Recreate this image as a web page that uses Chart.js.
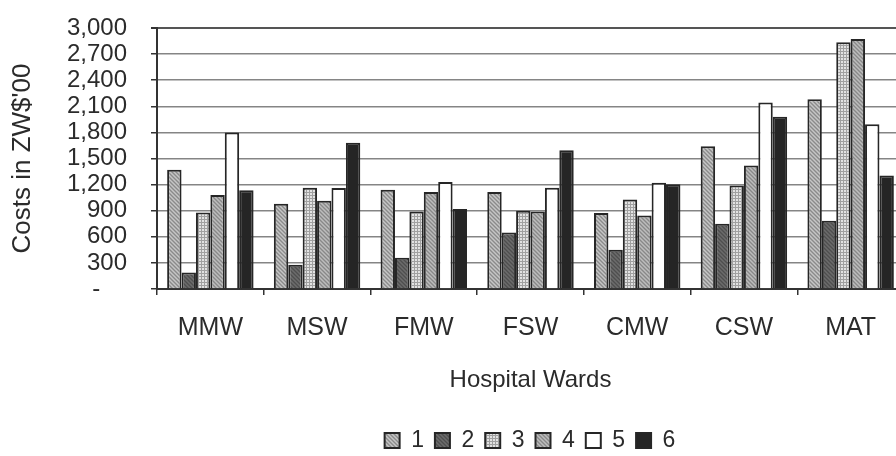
<!DOCTYPE html>
<html>
<head>
<meta charset="utf-8">
<script src="https://cdn.jsdelivr.net/npm/chart.js@4/dist/chart.umd.min.js"></script>
<style>
  html, body { margin: 0; padding: 0; background: #fff; overflow: hidden; }
  #wrap { position: relative; width: 1060px; height: 462px; }
</style>
</head>
<body>
<div id="wrap"><canvas id="c"></canvas></div>
<script>
// Ward cost data (ZW$'00) for six cost series
const wards = ['MMW', 'MSW', 'FMW', 'FSW', 'CMW', 'CSW', 'MAT'];
const seriesNames = ['1', '2', '3', '4', '5', '6'];
const series1 = [1370, 980, 1140, 1115, 875, 1640, 2180];
const series2 = [190, 280, 360, 650, 450, 750, 785];
const series3 = [880, 1165, 890, 900, 1030, 1190, 2835];
const series4 = [1080, 1015, 1115, 890, 845, 1420, 2875];
const series5 = [1800, 1160, 1230, 1165, 1220, 2145, 1895];
const series6 = [1135, 1680, 920, 1595, 1205, 1980, 1305];
const yMin = 0, yMax = 3000, yStep = 300;

const FONT = "'Liberation Sans', Arial, sans-serif";
const INK = '#2b2b2b';

// Small tiled fills for the textured bars
function tile(size, paint) {
  const c = document.createElement('canvas');
  c.width = size; c.height = size;
  const g = c.getContext('2d');
  paint(g, size);
  return document.getElementById('c').getContext('2d').createPattern(c, 'repeat');
}
const diagGray = (base, dark, light) => tile(4, (g, s) => {
  g.fillStyle = base; g.fillRect(0, 0, s, s);
  for (let i = 0; i < s; i++) {
    g.fillStyle = dark; g.fillRect(i, i, 1, 1);
    g.fillStyle = light; g.fillRect((i + 2) % s, i, 1, 1);
  }
});
const fill1 = diagGray('#a9a9a9', '#8a8a8a', '#c6c6c6');
const fill2 = diagGray('#5e5e5e', '#4e4e4e', '#6c6c6c');
const fill3 = tile(3, (g, s) => {
  g.fillStyle = '#e2e2e2'; g.fillRect(0, 0, s, s);
  g.fillStyle = '#a0a0a0'; g.fillRect(0, 0, s, 1); g.fillRect(0, 0, 1, s);
});
const fill4 = diagGray('#a4a4a4', '#888888', '#bdbdbd');

const fills = [fill1, fill2, fill3, fill4, '#ffffff', '#252525'];
const values = [series1, series2, series3, series4, series5, series6];

const datasets = seriesNames.map((name, i) => ({
  label: name,
  data: values[i],
  backgroundColor: fills[i],
  borderColor: '#262626',
  borderWidth: 2,
  borderSkipped: 'start',
  categoryPercentage: 0.81,
  barPercentage: 1.0
}));

new Chart(document.getElementById('c'), {
  type: 'bar',
  data: { labels: wards, datasets },
  options: {
    responsive: true,
    maintainAspectRatio: false,
    animation: false,
    devicePixelRatio: 1,
    layout: { padding: { top: 28, left: 0, right: 0, bottom: 0 } },
    plugins: {
      tooltip: { enabled: false },
      legend: {
        position: 'bottom',
        labels: {
          boxWidth: 15,
          boxHeight: 15,
          padding: 11,
          color: INK,
          font: { family: FONT, size: 23 }
        }
      }
    },
    scales: {
      x: {
        grid: {
          offset: true,
          drawOnChartArea: false,
          drawTicks: true,
          tickLength: 6,
          color: '#333333',
          lineWidth: 1.5
        },
        border: { display: true, color: '#333333', width: 2 },
        ticks: {
          color: INK,
          padding: 21,
          font: { family: FONT, size: 25, lineHeight: 1 }
        },
        title: {
          display: true,
          text: 'Hospital Wards',
          color: INK,
          font: { family: FONT, size: 24, lineHeight: 1 },
          padding: { top: 0, bottom: 26 }
        },
        afterFit: s => { s.height = 129; }
      },
      y: {
        min: yMin,
        max: yMax,
        grid: {
          color: ctx => (ctx.tick && ctx.tick.value === yMax) ? '#555555' : '#858585',
          lineWidth: ctx => (ctx.tick && ctx.tick.value === yMax) ? 2 : 1.5,
          // long tick slot keeps labels clear of the axis; only the inner 6px is inked
          tickLength: 30,
          tickColor: '#333333',
          tickBorderDash: [0, 24, 6, 100],
          drawTicks: true
        },
        border: { display: true, color: '#333333', width: 2 },
        ticks: {
          stepSize: yStep,
          autoSkip: false,
          padding: 0,
          color: INK,
          font: { family: FONT, size: 24, lineHeight: 1 },
          callback: v => v === 0 ? '-    ' : v.toLocaleString('en-US')
        },
        title: {
          display: true,
          text: "Costs in ZW$'00",
          color: INK,
          font: { family: FONT, size: 26, lineHeight: 1 },
          padding: { top: 10, bottom: 0 }
        },
        afterFit: s => { s.width = 157; }
      },
      yRight: {
        type: 'linear',
        position: 'right',
        display: true,
        grid: { display: false, drawTicks: false },
        border: { display: false },
        ticks: { display: false },
        afterFit: s => { s.width = 156; }
      }
    }
  }
});
</script>
</body>
</html>
